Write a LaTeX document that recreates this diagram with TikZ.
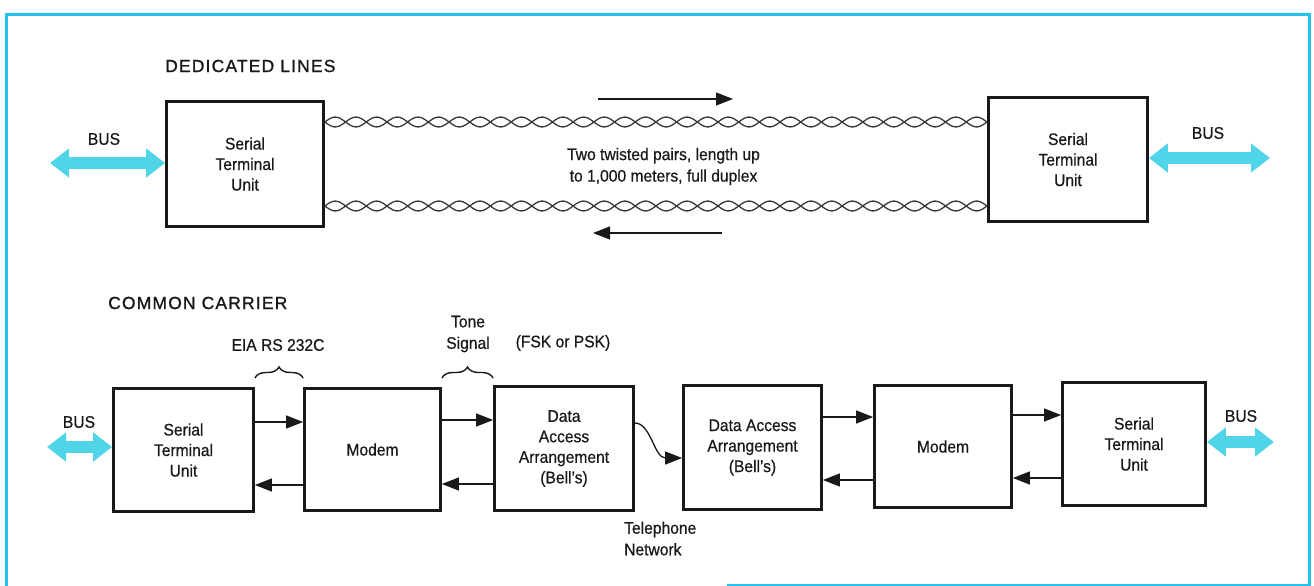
\documentclass[tikz,border=0pt]{standalone}
\usepackage{fontspec}
\setmainfont{Liberation Sans}[FakeStretch=0.93,FakeBold=0.6]
\newfontfamily\headfont{Liberation Sans}[LetterSpace=6.6,FakeBold=1.2]
\usetikzlibrary{arrows.meta,decorations.pathreplacing,calc}
\definecolor{frameblue}{RGB}{35,195,240}
\definecolor{buscyan}{RGB}{80,212,232}
\definecolor{ink}{RGB}{25,25,25}
\definecolor{wire}{RGB}{55,55,55}
\begin{document}
\begin{tikzpicture}[x=1pt,y=-1pt,
  unitbox/.style={draw=ink, line width=2.8pt, inner sep=0pt, align=center, text=ink, font=\fontsize{16.8}{20.5}\selectfont},
  lbl/.style={text=ink, inner sep=0pt, align=center, font=\fontsize{16.8}{21.5}\selectfont},
  heading/.style={text=ink, inner sep=0pt, anchor=west, font=\headfont\fontsize{17.5}{20}\selectfont},
  sig/.style={draw=ink, line width=1.3pt, -{Triangle[length=17pt,width=13pt]}},
  busarrow/.style={draw=buscyan, line width=12pt, {Triangle[length=19pt,width=28pt]}-{Triangle[length=19pt,width=28pt]}},
  wirestyle/.style={draw=wire, line width=1.3pt},
  bracestyle/.style={draw=ink, line width=1.4pt, decorate, decoration={brace, amplitude=11pt}},
  framestyle/.style={draw=frameblue, line width=3pt}
]
\useasboundingbox (0,0) rectangle (1314,586);
% frame
\draw[framestyle] (727,585) -- (1309,585) -- (1309,15) -- (6,15) -- (6,586);

% ---------- dedicated lines ----------
\node[heading] (h1) at (165,66) {DEDICATED LINES};
\node[unitbox, minimum width=157pt, minimum height=125pt] (stu1) at (245,164) {Serial\\Terminal\\Unit};
\node[unitbox, minimum width=159pt, minimum height=124pt] (stu2) at (1068,159.5) {Serial\\Terminal\\Unit};

% twisted pairs between stu1 and stu2 (32 half-twists each)
\begin{scope}[shift={(stu1.east |- 0,122)}]
  \draw[wirestyle] plot[domain=0:662, samples=500, smooth] (\x, {4.9*sin(\x/41.375*360)});
  \draw[wirestyle] plot[domain=0:662, samples=500, smooth] (\x, {-4.9*sin(\x/41.375*360)});
\end{scope}
\begin{scope}[shift={(stu1.east |- 0,206)}]
  \draw[wirestyle] plot[domain=0:662, samples=500, smooth] (\x, {4.9*sin(\x/41.375*360)});
  \draw[wirestyle] plot[domain=0:662, samples=500, smooth] (\x, {-4.9*sin(\x/41.375*360)});
\end{scope}

\coordinate (ta1) at (598,99);
\coordinate (ta2) at (733,99);
\draw[sig] (ta1) -- (ta2);
\coordinate (ba1) at (722,233);
\coordinate (ba2) at (593,233);
\draw[sig] (ba1) -- (ba2);

\node[lbl] (tp) at (663.5,166.5) {Two twisted pairs, length up\\to 1,000 meters, full duplex};

\coordinate (busTL) at (50,163);
\draw[busarrow] (busTL) -- (busTL -| stu1.west);
\node[lbl] (bTL) at (104,139) {BUS};
\coordinate (busTR) at (1270,158);
\draw[busarrow] (busTR -| stu2.east) -- (busTR);
\node[lbl] (bTR) at (1208,133) {BUS};

% ---------- common carrier ----------
\node[heading] (h2) at (108,303) {COMMON CARRIER};
\node[unitbox, minimum width=140pt, minimum height=123pt] (cstu1) at (183.5,450) {Serial\\Terminal\\Unit};
\node[unitbox, minimum width=136pt, minimum height=122pt] (modem1) at (372.5,449.5) {Modem};
\node[unitbox, minimum width=139pt, minimum height=124pt] (daa1) at (564,448.5) {Data\\Access\\Arrangement\\(Bell's)};
\node[unitbox, minimum width=138pt, minimum height=124pt] (daa2) at (752.5,447.5) {Data Access\\Arrangement\\(Bell's)};
\node[unitbox, minimum width=137pt, minimum height=122pt] (modem2) at (943,446.5) {Modem};
\node[unitbox, minimum width=143pt, minimum height=123pt] (cstu2) at (1134,444) {Serial\\Terminal\\Unit};

\draw[sig] (cstu1.east |- 0,422) -- (modem1.west |- 0,422);
\draw[sig] (modem1.west |- 0,485) -- (cstu1.east |- 0,485);
\draw[sig] (modem1.east |- 0,420) -- (daa1.west |- 0,420);
\draw[sig] (daa1.west |- 0,484) -- (modem1.east |- 0,484);
\draw[sig] (daa1.east |- 0,423) .. controls +(16,0) and +(-28,0) .. (daa2.west |- 0,458);
\draw[sig] (daa2.east |- 0,417) -- (modem2.west |- 0,417);
\draw[sig] (modem2.west |- 0,480) -- (daa2.east |- 0,480);
\draw[sig] (modem2.east |- 0,415) -- (cstu2.west |- 0,415);
\draw[sig] (cstu2.west |- 0,478) -- (modem2.east |- 0,478);

\draw[bracestyle] (cstu1.east |- 0,378) -- (modem1.west |- 0,378);
\draw[bracestyle] (modem1.east |- 0,378) -- (daa1.west |- 0,378);

\node[lbl] (eia) at (278,345) {EIA RS 232C};
\node[lbl] (tone) at (468,334) {Tone\\Signal};
\node[lbl] (fsk) at (563,343) {(FSK or PSK)};
\node[lbl, align=left, anchor=west] (tel) at (624,538.5) {Telephone\\Network};

\coordinate (busBL) at (47,447);
\draw[busarrow] (busBL) -- (busBL -| cstu1.west);
\node[lbl] (bBL) at (79,422) {BUS};
\coordinate (busBR) at (1274,442);
\draw[busarrow] (busBR -| cstu2.east) -- (busBR);
\node[lbl] (bBR) at (1241,416) {BUS};
\end{tikzpicture}
\end{document}
